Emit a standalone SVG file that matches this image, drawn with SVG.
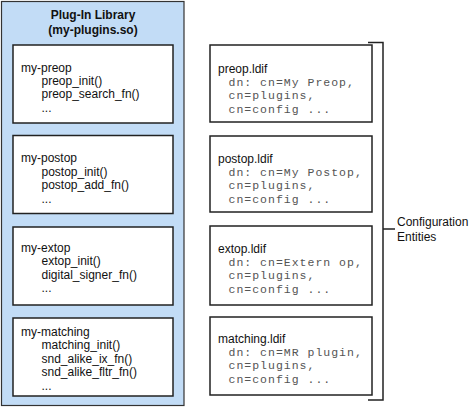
<svg xmlns="http://www.w3.org/2000/svg" width="472" height="409" viewBox="0 0 472 409">
<style>
.box{fill:#fff;stroke:#222;stroke-width:1.5}
.t{font-family:"Liberation Sans",Arial,sans-serif;font-size:12px;fill:#111}
.b{font-weight:bold;text-anchor:middle}
.m{font-family:"Liberation Mono","Courier New",monospace;font-size:11.5px;letter-spacing:1px;fill:#555}
.ln{stroke:#222;stroke-width:1.5;fill:none}
</style>
<rect width="472" height="409" fill="#fff"/>
<g id="library">
<rect x="1.5" y="1.5" width="182.5" height="404" fill="#c2dcf6" stroke="#333" stroke-width="1.2"/>
<text class="t b" x="93" y="19">Plug-In Library</text>
<text class="t b" x="93" y="33.5">(my-plugins.so)</text>
</g>
<g id="my-preop">
<rect class="box" x="13" y="45" width="160" height="78"/>
<text class="t" x="21" y="71.7">my-preop</text>
<text class="t" x="41.5" y="85">preop_init()</text>
<text class="t" x="41.5" y="98.4">preop_search_fn()</text>
<text class="t" x="41.5" y="111.8">...</text>
</g>
<g id="my-postop">
<rect class="box" x="13" y="135.5" width="160" height="78"/>
<text class="t" x="21" y="162.3">my-postop</text>
<text class="t" x="41.5" y="175.7">postop_init()</text>
<text class="t" x="41.5" y="189.1">postop_add_fn()</text>
<text class="t" x="41.5" y="202.5">...</text>
</g>
<g id="my-extop">
<rect class="box" x="13" y="227" width="160" height="78"/>
<text class="t" x="21" y="251.7">my-extop</text>
<text class="t" x="41.5" y="265.1">extop_init()</text>
<text class="t" x="41.5" y="278.5">digital_signer_fn()</text>
<text class="t" x="41.5" y="291.9">...</text>
</g>
<g id="my-matching">
<rect class="box" x="13" y="318" width="160" height="78"/>
<text class="t" x="21" y="336">my-matching</text>
<text class="t" x="41.5" y="349.4">matching_init()</text>
<text class="t" x="41.5" y="362.8">snd_alike_ix_fn()</text>
<text class="t" x="41.5" y="376.2">snd_alike_fltr_fn()</text>
<text class="t" x="41.5" y="389.6">...</text>
</g>
<g id="preop-ldif">
<rect class="box" x="210" y="45" width="162" height="77"/>
<text class="t" x="218" y="72.7">preop.ldif</text>
<text class="m" x="228.5" y="86">dn: cn=My Preop,</text>
<text class="m" x="228.5" y="99.3">cn=plugins,</text>
<text class="m" x="228.5" y="112.6">cn=config ...</text>
</g>
<g id="postop-ldif">
<rect class="box" x="210" y="136" width="162" height="76"/>
<text class="t" x="218" y="162.7">postop.ldif</text>
<text class="m" x="228.5" y="176">dn: cn=My Postop,</text>
<text class="m" x="228.5" y="189.3">cn=plugins,</text>
<text class="m" x="228.5" y="202.6">cn=config ...</text>
</g>
<g id="extop-ldif">
<rect class="box" x="210" y="226" width="162" height="79"/>
<text class="t" x="218" y="252.7">extop.ldif</text>
<text class="m" x="228.5" y="266">dn: cn=Extern op,</text>
<text class="m" x="228.5" y="279.3">cn=plugins,</text>
<text class="m" x="228.5" y="292.6">cn=config ...</text>
</g>
<g id="matching-ldif">
<rect class="box" x="210" y="317" width="162" height="78"/>
<text class="t" x="218" y="342.7">matching.ldif</text>
<text class="m" x="228.5" y="356">dn: cn=MR plugin,</text>
<text class="m" x="228.5" y="369.3">cn=plugins,</text>
<text class="m" x="228.5" y="382.6">cn=config ...</text>
</g>
<g id="connectors">
<path class="ln" d="M368 42.5H383V400H368M383 229H395"/>
</g>
<g id="config-entities">
<text class="t" x="397" y="226">Configuration</text>
<text class="t" x="397" y="241">Entities</text>
</g>
</svg>
